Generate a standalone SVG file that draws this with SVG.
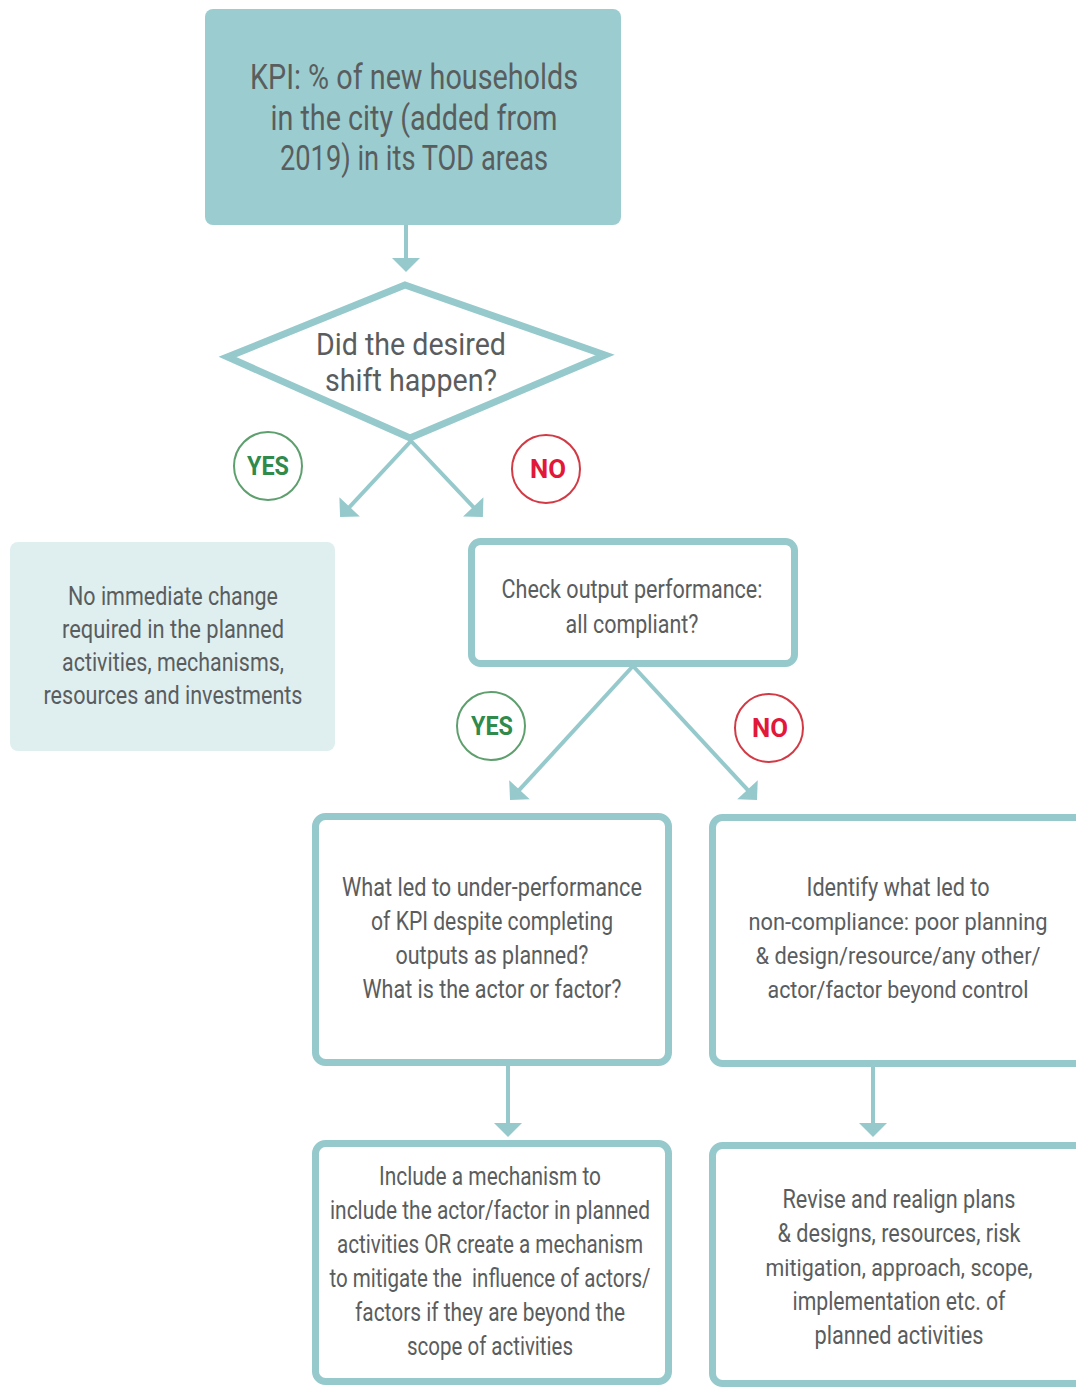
<svg xmlns="http://www.w3.org/2000/svg" width="1076" height="1387" viewBox="0 0 1076 1387">
  <style>
    .t { font-family: Roboto, "Liberation Sans", sans-serif; fill: #5a5d5e; text-anchor: middle; }
    .t34 { font-size: 35px; }
    .t26 { font-size: 26px; }
    .t24 { font-size: 24px; }
    .box { fill: #ffffff; stroke: #95c9cc; stroke-width: 7; }
    .lbl { font-family: Roboto, "Liberation Sans", sans-serif; font-weight: bold; font-size: 25px; text-anchor: middle; }
    .conn { stroke: #95c9cc; stroke-width: 4; fill: none; }
  </style>
  <defs>
    <marker id="head" markerUnits="userSpaceOnUse" markerWidth="16" markerHeight="28" refX="4" refY="14" orient="auto" viewBox="0 0 14 28">
      <path d="M0,0 L14,14 L0,28 z" fill="#95c9cc"/>
    </marker>
  </defs>
  <rect width="1076" height="1387" fill="#ffffff"/>

  <!-- connectors -->
  <g id="connectors">
    <line class="conn" x1="406" y1="225" x2="406" y2="262" marker-end="url(#head)"/>
    <line class="conn" x1="411" y1="441" x2="346.9" y2="509.8" marker-end="url(#head)"/>
    <line class="conn" x1="411" y1="441" x2="476" y2="509.8" marker-end="url(#head)"/>
    <line class="conn" x1="633" y1="666" x2="516.8" y2="792.7" marker-end="url(#head)"/>
    <line class="conn" x1="633" y1="666" x2="750.2" y2="792.7" marker-end="url(#head)"/>
    <line class="conn" x1="508" y1="1066" x2="508" y2="1127" marker-end="url(#head)"/>
    <line class="conn" x1="873" y1="1067" x2="873" y2="1127" marker-end="url(#head)"/>
  </g>

  <!-- KPI -->
  <g id="kpi">
    <rect x="205" y="9" width="416" height="216" rx="8" fill="#9bcdd0"/>
    <text class="t t34" x="414" y="89" textLength="328" lengthAdjust="spacingAndGlyphs">KPI: % of new households</text>
    <text class="t t34" x="414" y="130" textLength="287" lengthAdjust="spacingAndGlyphs">in the city (added from</text>
    <text class="t t34" x="414" y="170" textLength="268" lengthAdjust="spacingAndGlyphs">2019) in its TOD areas</text>
  </g>

  <!-- decision: shift -->
  <g id="shift">
    <polygon points="405,285 605,355 410,438 227.5,357" fill="#ffffff" stroke="#95c9cc" stroke-width="7" stroke-linejoin="miter"/>
    <text class="t" font-size="32" x="411" y="355" textLength="190" lengthAdjust="spacingAndGlyphs">Did the desired</text>
    <text class="t" font-size="32" x="411" y="391" textLength="172" lengthAdjust="spacingAndGlyphs">shift happen?</text>
  </g>

  <!-- answer labels -->
  <g id="yes1">
    <circle cx="268" cy="466" r="34" fill="#ffffff" stroke="#5e9f6e" stroke-width="2"/>
    <text class="lbl" x="268" y="475" fill="#2f8a4c" textLength="42" lengthAdjust="spacingAndGlyphs">YES</text>
  </g>
  <g id="no1">
    <circle cx="546" cy="469" r="34" fill="#ffffff" stroke="#d23a45" stroke-width="2"/>
    <text class="lbl" x="548" y="478" fill="#e2183a" textLength="36" lengthAdjust="spacingAndGlyphs">NO</text>
  </g>
  <g id="yes2">
    <circle cx="491" cy="726" r="34" fill="#ffffff" stroke="#5e9f6e" stroke-width="2"/>
    <text class="lbl" x="492" y="735" fill="#2f8a4c" textLength="42" lengthAdjust="spacingAndGlyphs">YES</text>
  </g>
  <g id="no2">
    <circle cx="769" cy="728" r="34" fill="#ffffff" stroke="#d23a45" stroke-width="2"/>
    <text class="lbl" x="770" y="737" fill="#e2183a" textLength="36" lengthAdjust="spacingAndGlyphs">NO</text>
  </g>

  <!-- no change -->
  <g id="no-change">
    <rect x="10" y="542" width="325" height="209" rx="8" fill="#dfeff0"/>
    <text class="t t26" x="173" y="605" textLength="210" lengthAdjust="spacingAndGlyphs">No immediate change</text>
    <text class="t t26" x="173" y="638" textLength="222" lengthAdjust="spacingAndGlyphs">required in the planned</text>
    <text class="t t26" x="173" y="671" textLength="222" lengthAdjust="spacingAndGlyphs">activities, mechanisms,</text>
    <text class="t t26" x="173" y="704" textLength="259" lengthAdjust="spacingAndGlyphs">resources and investments</text>
  </g>

  <!-- check outputs -->
  <g id="check-output">
    <rect class="box" x="471.5" y="541.5" width="323" height="122" rx="9"/>
    <text class="t t26" x="632" y="598" textLength="261" lengthAdjust="spacingAndGlyphs">Check output performance:</text>
    <text class="t t26" x="632" y="633" textLength="133" lengthAdjust="spacingAndGlyphs">all compliant?</text>
  </g>

  <!-- under-performance -->
  <g id="under-performance">
    <rect class="box" x="315.5" y="816.5" width="353" height="246" rx="10"/>
    <text class="t t26" x="492" y="896" textLength="300" lengthAdjust="spacingAndGlyphs">What led to under-performance</text>
    <text class="t t26" x="492" y="930" textLength="242" lengthAdjust="spacingAndGlyphs">of KPI despite completing</text>
    <text class="t t26" x="492" y="964" textLength="193" lengthAdjust="spacingAndGlyphs">outputs as planned?</text>
    <text class="t t26" x="492" y="998" textLength="259" lengthAdjust="spacingAndGlyphs">What is the actor or factor?</text>
  </g>

  <!-- non-compliance: box runs on past the right edge of the page -->
  <g id="non-compliance">
    <path class="box" d="M1080,817.5 H722.5 A10,10 0 0 0 712.5,827.5 V1053.5 A10,10 0 0 0 722.5,1063.5 H1080"/>
    <text class="t t26" x="898" y="896" textLength="183" lengthAdjust="spacingAndGlyphs">Identify what led to</text>
    <text class="t t24" x="898" y="930" textLength="299" lengthAdjust="spacingAndGlyphs">non-compliance: poor planning</text>
    <text class="t t24" x="898" y="964" textLength="285" lengthAdjust="spacingAndGlyphs">&amp; design/resource/any other/</text>
    <text class="t t24" x="898" y="998" textLength="261" lengthAdjust="spacingAndGlyphs">actor/factor beyond control</text>
  </g>

  <!-- mechanism -->
  <g id="mechanism">
    <rect class="box" x="315.5" y="1143.5" width="353" height="238" rx="10"/>
    <text class="t t26" x="490" y="1185" textLength="222" lengthAdjust="spacingAndGlyphs">Include a mechanism to</text>
    <text class="t t26" x="490" y="1219" textLength="320" lengthAdjust="spacingAndGlyphs">include the actor/factor in planned</text>
    <text class="t t26" x="490" y="1253" textLength="306" lengthAdjust="spacingAndGlyphs">activities OR create a mechanism</text>
    <text class="t t26" x="490" y="1287" textLength="321" lengthAdjust="spacingAndGlyphs" xml:space="preserve">to mitigate the  influence of actors/</text>
    <text class="t t26" x="490" y="1321" textLength="270" lengthAdjust="spacingAndGlyphs">factors if they are beyond the</text>
    <text class="t t26" x="490" y="1355" textLength="166" lengthAdjust="spacingAndGlyphs">scope of activities</text>
  </g>

  <!-- revise: box runs on past the right edge of the page -->
  <g id="revise">
    <path class="box" d="M1080,1145.5 H722.5 A10,10 0 0 0 712.5,1155.5 V1373.5 A10,10 0 0 0 722.5,1383.5 H1080"/>
    <text class="t t26" x="899" y="1208" textLength="233" lengthAdjust="spacingAndGlyphs">Revise and realign plans</text>
    <text class="t t26" x="899" y="1242" textLength="243" lengthAdjust="spacingAndGlyphs">&amp; designs, resources, risk</text>
    <text class="t t24" x="899" y="1276" textLength="267" lengthAdjust="spacingAndGlyphs">mitigation, approach, scope,</text>
    <text class="t t26" x="899" y="1310" textLength="213" lengthAdjust="spacingAndGlyphs">implementation etc. of</text>
    <text class="t t26" x="899" y="1344" textLength="169" lengthAdjust="spacingAndGlyphs">planned activities</text>
  </g>
</svg>
